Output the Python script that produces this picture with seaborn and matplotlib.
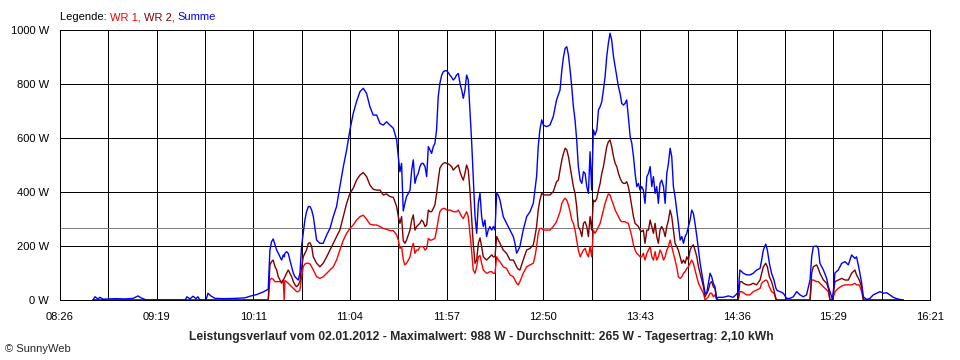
# Leistungsverlauf 02.01.2012 - SunnyWeb style chart
import matplotlib
matplotlib.use("Agg")
import matplotlib.pyplot as plt
import pandas as pd
import seaborn as sns

# Time of each sample in minutes after midnight
zeit_min = [
    524.0, 525.1, 526.7, 527.8, 529.5, 532.2, 536.0, 541.5, 545.9, 548.6,
    550.2, 552.4, 553.5, 560.6, 574.3, 575.3, 577.0, 578.6, 580.3, 581.3,
    582.4, 585.7, 586.8, 588.4, 590.6, 596.1, 601.6, 607.0,
    609.7, 613.3, 617.0, 619.7, 620.6, 621.5, 622.4, 623.4, 624.3, 625.2,
    626.1, 627.0, 627.9, 628.4, 628.8, 629.7, 630.6, 631.5, 632.5, 633.4,
    634.3, 635.2, 636.1, 637.0, 637.9, 638.8, 639.7, 640.6, 641.6, 642.5,
    643.4, 644.3, 646.1, 647.9, 649.7, 651.6, 653.4, 655.2, 657.0, 658.8,
    660.7, 662.5, 664.3, 666.1, 667.9, 669.8, 671.6, 673.4, 675.2, 677.0,
    678.9, 680.7, 682.5, 684.3, 686.1, 688.0, 689.8, 690.7, 691.6,
    692.5, 693.4, 694.3, 695.2, 696.2, 697.1, 698.0, 698.9, 699.8, 700.7,
    701.6, 702.5, 703.4, 704.3, 705.3, 706.2, 707.1, 708.0, 708.9, 709.8,
    710.7, 711.6, 712.5, 713.4, 714.4, 715.3, 716.2, 717.1, 718.0, 718.9,
    719.8, 720.7, 721.6, 722.5, 723.5, 724.4, 725.3, 726.2, 727.1, 728.0,
    728.9, 729.8, 730.7, 731.6, 732.6, 733.5, 734.4, 735.3, 736.2, 737.1,
    738.0, 738.9, 739.8, 740.7, 741.7, 742.6, 743.5, 744.4, 745.3, 746.2,
    748.0, 749.8, 751.7, 753.5, 754.4, 755.3, 756.2, 757.1, 758.9, 760.8,
    762.6, 764.4, 765.3, 766.2, 767.1, 768.0, 769.0, 769.9, 771.7, 773.5,
    775.3, 777.1,
    778.1, 779.0, 780.0, 780.9, 781.8, 782.7, 783.6, 784.5, 785.4, 786.3,
    787.2, 788.1, 789.0, 790.0, 790.9, 791.8, 792.7, 793.6, 794.5, 795.4,
    796.3, 797.2, 798.1, 799.1, 800.0, 800.9, 801.8, 802.7, 803.6, 804.5,
    805.4, 806.3, 807.2, 808.2, 809.1, 810.0, 810.9, 811.8, 812.7, 813.6,
    814.5, 815.4, 816.3, 817.3, 818.2, 819.1, 820.0, 820.9, 821.8, 822.7,
    823.6, 824.5, 825.4, 826.4, 827.3, 828.2, 829.1, 830.0, 830.9, 831.8,
    832.7, 833.6, 834.5, 835.5, 836.4, 837.3, 838.2, 839.1, 840.0, 840.9,
    841.8, 842.7, 843.6, 844.6, 845.5, 846.4, 847.3, 848.2, 849.1, 850.0,
    850.9, 851.8, 852.7, 853.7, 854.6, 855.5, 856.4, 857.3, 858.2, 859.1,
    860.0, 860.9, 861.8, 862.7,
    863.6, 864.5, 865.4, 868.1, 870.9, 873.6, 875.4, 876.3, 877.2, 878.2,
    879.1, 880.9, 882.7, 884.5, 886.3, 888.2, 889.1, 890.0, 891.3, 892.2,
    893.3, 894.5, 895.8, 896.9, 897.6, 899.1, 900.9, 902.7, 904.5, 906.4,
    908.2, 910.0, 911.8, 913.6, 915.5, 916.4, 917.3, 919.1, 920.0, 920.9,
    922.8, 924.6, 925.5, 926.4, 927.8, 929.1, 930.9, 932.8, 934.6, 936.4,
    938.2, 940.0, 940.9, 942.4, 943.7, 944.6, 946.4, 948.2, 950.0, 951.9,
    953.7, 955.5, 957.3, 959.1, 960.9, 962.8, 964.6, 966.4,
]

# Summe (W)
summe = [
    0, 12, 4, 10, 3, 4, 5, 4, 6, 15,
    8, 2, 0, 0, 0, 12, 4, 14, 5, 12,
    0, 0, 25, 15, 6, 5, 6, 8,
    14, 20, 30, 40, 185, 216, 226, 204, 185, 173,
    160, 148, 167, 160, 173, 179, 173, 148, 123, 99,
    86, 80, 74, 99, 200, 247, 296, 327, 346, 346,
    333, 309, 222, 210, 210, 241, 265, 309, 346, 420,
    494, 556, 630, 691, 735, 772, 784, 765, 716, 685,
    685, 654, 648, 660, 648, 636, 593, 531, 475,
    506, 330, 358, 383, 395, 407, 481, 519, 432, 457,
    469, 494, 506, 506, 494, 457, 568, 556, 543, 568,
    580, 630, 753, 802, 833, 846, 849, 849, 842, 833,
    825, 815, 821, 833, 839, 802, 778, 747, 778, 833,
    815, 704, 593, 457, 309, 247, 358, 395, 309, 272,
    296, 235, 259, 272, 259, 272, 259, 395, 389, 370,
    309, 284, 259, 235, 210, 173, 185, 198, 259, 309,
    327, 358, 407, 457, 568, 630, 667, 648, 642, 648,
    679, 741,
    760, 778, 852, 901, 932, 938, 907, 852, 790, 716,
    667, 593, 494, 444, 432, 475, 469, 420, 395, 549,
    407, 630, 611, 630, 704, 716, 735, 778, 827, 901,
    951, 988, 963, 901, 864, 827, 790, 765, 728, 722,
    728, 741, 679, 605, 580, 531, 469, 420, 432, 407,
    420, 407, 358, 457, 469, 494, 420, 457, 395, 420,
    358, 432, 444, 420, 358, 469, 506, 562, 531, 420,
    383, 333, 284, 222, 235, 210, 235, 247, 272, 296,
    333, 321, 284, 235, 185, 136, 99, 62, 25, 25,
    62, 99, 86, 62,
    49, 6, 10, 10, 15, 10, 22, 31, 111, 105,
    99, 93, 93, 99, 111, 117, 148, 185, 207, 185,
    136, 99, 74, 43, 35, 31, 25, 6, 6, 12,
    31, 19, 12, 19, 74, 160, 198, 200, 191, 136,
    111, 80, 49, 31, 0, 100, 111, 136, 142, 130,
    167, 154, 160, 111, 62, 12, 2, 6, 19, 25,
    31, 25, 27, 19, 10, 5, 2, 0,
]

# WR 2 (W)
wr2 = [
    0, 0, 0, 0, 0, 0, 0, 0, 0, 0,
    0, 0, 0, 0, 0, 0, 0, 0, 0, 0,
    0, 0, 0, 0, 0, 0, 0, 0,
    0, 0, 0, 0, 130, 142, 148, 123, 111, 86,
    74, 62, 74, 80, 86, 99, 111, 99, 86, 68,
    56, 49, 56, 68, 120, 160, 173, 185, 210, 212,
    198, 160, 136, 123, 136, 160, 185, 210, 235, 259,
    309, 358, 395, 414, 444, 463, 472, 457, 426, 410,
    407, 407, 389, 393, 383, 380, 346, 309, 284,
    309, 220, 210, 222, 241, 259, 296, 315, 259, 272,
    278, 284, 296, 290, 272, 278, 333, 327, 327, 339,
    352, 395, 444, 488, 500, 506, 509, 506, 504, 500,
    494, 481, 488, 494, 500, 475, 457, 444, 469, 500,
    481, 407, 309, 210, 136, 148, 210, 230, 198, 160,
    154, 148, 154, 160, 167, 160, 160, 235, 222, 210,
    185, 173, 148, 148, 136, 123, 114, 111, 148, 185,
    191, 204, 235, 272, 333, 370, 395, 389, 389, 389,
    401, 438,
    444, 481, 519, 543, 562, 556, 531, 494, 457, 420,
    395, 346, 272, 259, 235, 284, 290, 272, 235, 309,
    259, 370, 364, 377, 407, 432, 469, 494, 531, 568,
    586, 593, 568, 531, 506, 494, 469, 451, 438, 432,
    432, 438, 420, 383, 346, 309, 284, 278, 272, 259,
    253, 259, 210, 259, 259, 296, 272, 247, 284, 235,
    210, 259, 272, 259, 235, 272, 296, 333, 309, 259,
    210, 198, 185, 160, 136, 148, 136, 160, 148, 185,
    198, 204, 185, 160, 123, 99, 74, 49, 12, 25,
    37, 62, 68, 49,
    43, 6, 0, 0, 0, 0, 0, 0, 68, 68,
    62, 56, 56, 62, 56, 74, 99, 123, 136, 123,
    86, 68, 37, 0, 0, 0, 0, 0, 0, 0,
    0, 0, 0, 0, 0, 99, 123, 130, 117, 99,
    74, 62, 43, 0, 0, 68, 74, 80, 74, 74,
    99, 111, 93, 74, 49, 0, 0, 0, 0, 0,
    0, 0, 0, 0, 0, 0, 0, 0,
]

# WR 1 (W)
wr1 = [
    0, 0, 0, 0, 0, 0, 0, 0, 0, 0,
    0, 0, 0, 0, 0, 0, 0, 0, 0, 0,
    0, 0, 0, 0, 0, 0, 0, 0,
    0, 0, 0, 0, 74, 80, 77, 68, 68, 68,
    68, 68, 74, 0, 72, 68, 62, 56, 49, 43,
    37, 31, 31, 37, 85, 123, 133, 136, 136, 133,
    123, 111, 86, 80, 86, 99, 111, 123, 148, 185,
    222, 247, 265, 278, 296, 309, 314, 299, 281, 278,
    278, 272, 265, 262, 257, 257, 241, 222, 191,
    198, 150, 130, 136, 148, 160, 191, 210, 173, 185,
    185, 198, 198, 198, 185, 191, 228, 222, 222, 225,
    228, 259, 296, 327, 336, 339, 339, 333, 333, 333,
    331, 327, 327, 327, 333, 321, 309, 302, 315, 327,
    309, 247, 185, 111, 99, 123, 160, 165, 136, 111,
    105, 99, 101, 105, 105, 99, 99, 160, 148, 142,
    123, 117, 93, 86, 74, 62, 56, 68, 99, 123,
    130, 136, 160, 198, 247, 265, 265, 259, 259, 259,
    272, 290,
    309, 327, 358, 370, 377, 370, 352, 327, 296, 284,
    259, 222, 185, 160, 173, 185, 191, 173, 160, 198,
    160, 259, 247, 259, 272, 284, 309, 333, 358, 377,
    393, 389, 370, 352, 333, 321, 309, 296, 290, 290,
    290, 286, 284, 259, 235, 204, 185, 173, 167, 160,
    160, 173, 148, 173, 185, 198, 160, 148, 179, 148,
    160, 185, 173, 148, 160, 185, 198, 222, 198, 173,
    148, 123, 86, 80, 86, 99, 105, 117, 123, 136,
    148, 136, 111, 86, 62, 49, 37, 25, 0, 6,
    12, 25, 25, 12,
    19, 2, 0, 0, 0, 0, 0, 0, 31, 31,
    27, 19, 19, 31, 37, 43, 62, 68, 74, 70,
    49, 31, 25, 6, 0, 0, 0, 0, 0, 0,
    0, 0, 0, 0, 0, 74, 74, 68, 68, 62,
    49, 37, 31, 0, 0, 31, 43, 52, 56, 56,
    56, 62, 56, 56, 31, 0, 0, 0, 0, 0,
    0, 0, 0, 0, 0, 0, 0, 0,
]

durchschnitt = 265
zeit_labels = ["08:26", "09:19", "10:11", "11:04", "11:57",
               "12:50", "13:43", "14:36", "15:29", "16:21"]
y_werte = [0, 200, 400, 600, 800, 1000]

farben = {"WR 1": "#ff0000", "WR 2": "#800000", "Summe": "#0000ff"}

df = pd.DataFrame({"zeit": zeit_min, "WR 1": wr1, "WR 2": wr2, "Summe": summe})
long_df = df.melt(id_vars="zeit", var_name="serie", value_name="leistung")

sns.set_theme(style="white")
plt.rcParams['font.family'] = ['Liberation Sans', 'DejaVu Sans']
px = 0.72  # one pixel at 100 dpi

fig = plt.figure(figsize=(9.6, 3.6), dpi=100)
ax = fig.add_axes([60 / 960, 60 / 360, 870 / 960, 270 / 360])

# average line sits under the curves
ax.axhline(durchschnitt, color="#808080", lw=px, zorder=1.8, antialiased=False)

sns.lineplot(data=long_df, x="zeit", y="leistung", hue="serie",
             hue_order=["WR 1", "WR 2", "Summe"], palette=farben,
             linewidth=1, legend=False, estimator=None, sort=False, ax=ax)

ax.set_xlim(506, 981)
ax.set_ylim(0, 1000)

# 19 gridlines, only every second one labelled
x_pos = [506 + k * 475 / 18 for k in range(19)]
x_lab = []
for k in range(19):
    x_lab.append(zeit_labels[k // 2] if k % 2 == 0 else "")
ax.set_xticks(x_pos)
ax.set_xticklabels(x_lab)
ax.set_yticks(y_werte)
ax.set_yticklabels([f"{v} W" for v in y_werte])
ax.set_xlabel("")
ax.set_ylabel("")

# crisp black grid like the original bitmap
ax.grid(True, color="black", lw=px, antialiased=False)
for s in ax.spines.values():
    s.set_color("black")
    s.set_linewidth(px)
    s.set_antialiased(False)
ax.tick_params(axis="both", length=4, width=px, color="black",
               labelsize=8, labelcolor="black", direction="out")
ax.tick_params(axis="x", pad=5)
ax.tick_params(axis="y", pad=4)

# legend line at the top, coloured pieces
t1 = fig.text(60 / 960, 1 - 17 / 360, "Legende: ", fontsize=8, va="center", color="black")
t2 = ax.annotate("WR 1, ", xy=(1, 0), xycoords=t1, va="bottom", fontsize=8, color=farben["WR 1"])
t3 = ax.annotate("WR 2, ", xy=(1, 0), xycoords=t2, va="bottom", fontsize=8, color=farben["WR 2"])
ax.annotate("Summe", xy=(1, 0), xycoords=t3, va="bottom", fontsize=8, color=farben["Summe"])

fig.text(481 / 960, 1 - 337 / 360,
         "Leistungsverlauf vom 02.01.2012 - Maximalwert: 988 W - Durchschnitt: 265 W - Tagesertrag: 2,10 kWh",
         ha="center", va="center", fontsize=8.7, fontweight="bold")
fig.text(5 / 960, 1 - 349 / 360, "© SunnyWeb", fontsize=8, va="center")

fig.savefig("out.png", dpi=100)
